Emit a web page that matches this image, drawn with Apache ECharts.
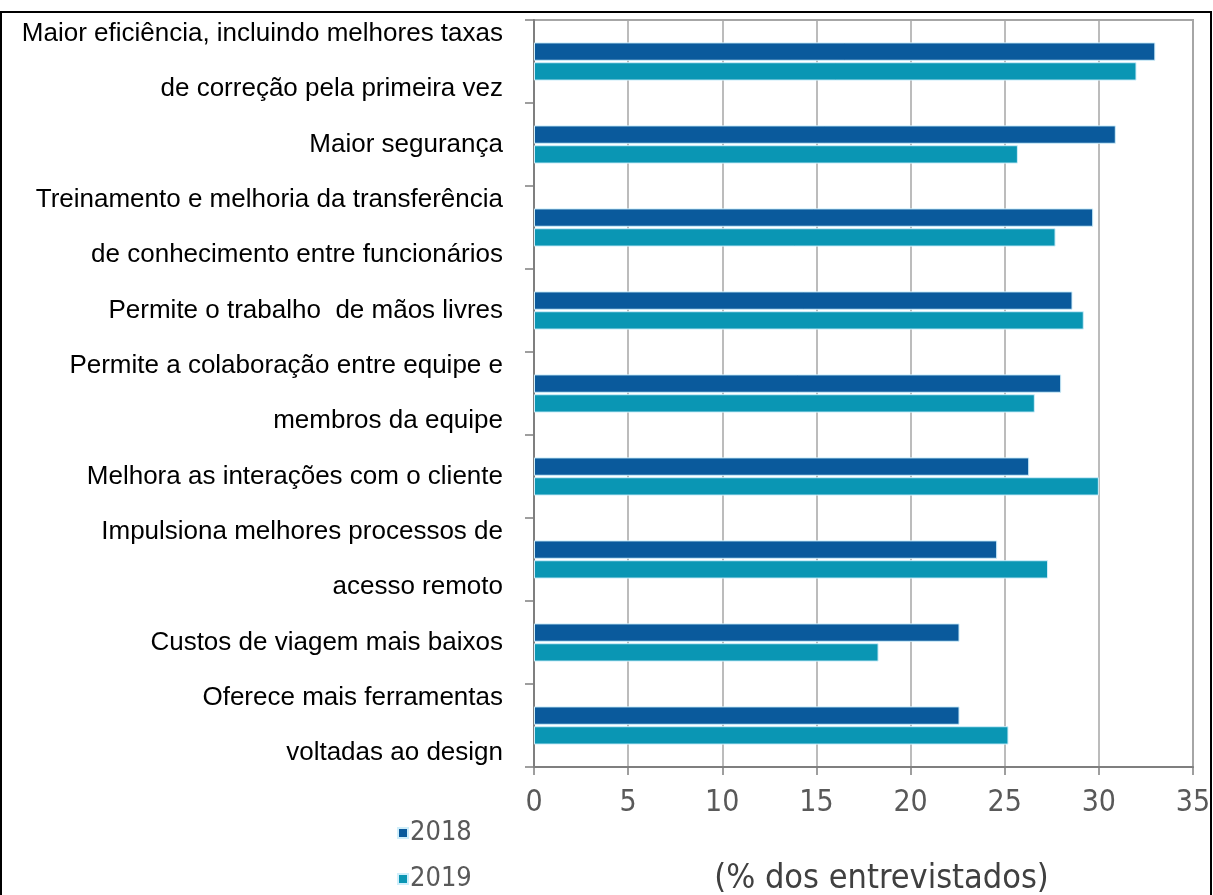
<!DOCTYPE html>
<html>
<head>
<meta charset="utf-8">
<script src="https://cdn.jsdelivr.net/npm/echarts@6/dist/echarts.min.js"></script>
<style>
html,body{margin:0;padding:0;background:#fff;}
#c{width:1213px;height:895px;}
</style>
</head>
<body>
<div id="c"></div>
<script>
const categories = [
  "Maior eficiência, incluindo melhores taxas\nde correção pela primeira vez",
  "Maior segurança",
  "Treinamento e melhoria da transferência\nde conhecimento entre funcionários",
  "Permite o trabalho  de mãos livres",
  "Permite a colaboração entre equipe e\nmembros da equipe",
  "Melhora as interações com o cliente",
  "Impulsiona melhores processos de\nacesso remoto",
  "Custos de viagem mais baixos",
  "Oferece mais ferramentas\nvoltadas ao design"
];
const values2018 = [33.0, 30.9, 29.7, 28.6, 28.0, 26.3, 24.6, 22.6, 22.6];
const values2019 = [32.0, 25.7, 27.7, 29.2, 26.6, 30.0, 27.3, 18.3, 25.2];
const seriesNames = ["2018", "2019"];
const axisName = "(% dos entrevistados)";

const chart = echarts.init(document.getElementById('c'), null, {renderer: 'canvas'});
const narrow = '"Liberation Sans Narrow", "DejaVu Sans Condensed", "Liberation Sans", sans-serif';
const legendBase = {
  orient: 'vertical', left: 392,
  itemWidth: 10, itemHeight: 10, icon: 'rect',
  textStyle: {fontFamily: narrow, fontSize: 27, lineHeight: 30, color: '#595959', padding: [0, 0, 0, -3]}
};
chart.setOption({
  backgroundColor: '#ffffff',
  animation: false,
  color: ['#0a5a9c', '#0a96b4'],
  grid: {left: 534, right: 20, top: 20, bottom: 128, containLabel: false, outerBoundsMode: 'none',
         show: true, borderColor: '#a6a6a6', borderWidth: 2, backgroundColor: 'transparent'},
  legend: [
    Object.assign({}, legendBase, {top: 813, data: [seriesNames[0]]}),
    Object.assign({}, legendBase, {top: 859, data: [seriesNames[1]]})
  ],
  xAxis: {
    type: 'value', min: 0, max: 35, interval: 5,
    axisLine: {show: true, lineStyle: {color: '#7f7f7f', width: 2}},
    axisTick: {show: true, length: 8, lineStyle: {color: '#7f7f7f', width: 1.5}},
    splitLine: {show: true, lineStyle: {color: '#a6a6a6', width: 1.5}},
    axisLabel: {fontFamily: narrow, fontSize: 30, color: '#595959', margin: 21},
    name: axisName, nameLocation: 'middle', nameGap: 95,
    nameTextStyle: {fontFamily: narrow, fontSize: 34, color: '#404040', padding: [0, 0, 0, 36]}
  },
  yAxis: {
    type: 'category', data: categories, inverse: true,
    axisLine: {show: true, lineStyle: {color: '#7f7f7f', width: 2}},
    axisTick: {show: true, length: 9, lineStyle: {color: '#7f7f7f', width: 1.5}},
    axisLabel: {interval: 0, fontFamily: '"Liberation Sans", Arial, sans-serif', fontSize: 26, color: '#000', margin: 31, lineHeight: 55, align: 'right'}
  },
  series: [
    {name: seriesNames[0], type: 'bar', data: values2018, barGap: '8%', barCategoryGap: '54%',
     itemStyle: {borderColor: '#cfeefa', borderWidth: 1}},
    {name: seriesNames[1], type: 'bar', data: values2019,
     itemStyle: {borderColor: '#cfeefa', borderWidth: 1}}
  ],
  graphic: [{
    type: 'rect', shape: {x: 1, y: 12, width: 1210, height: 900},
    style: {fill: 'none', stroke: '#000', lineWidth: 2}, silent: true, z: 100
  }]
});
</script>
</body>
</html>
